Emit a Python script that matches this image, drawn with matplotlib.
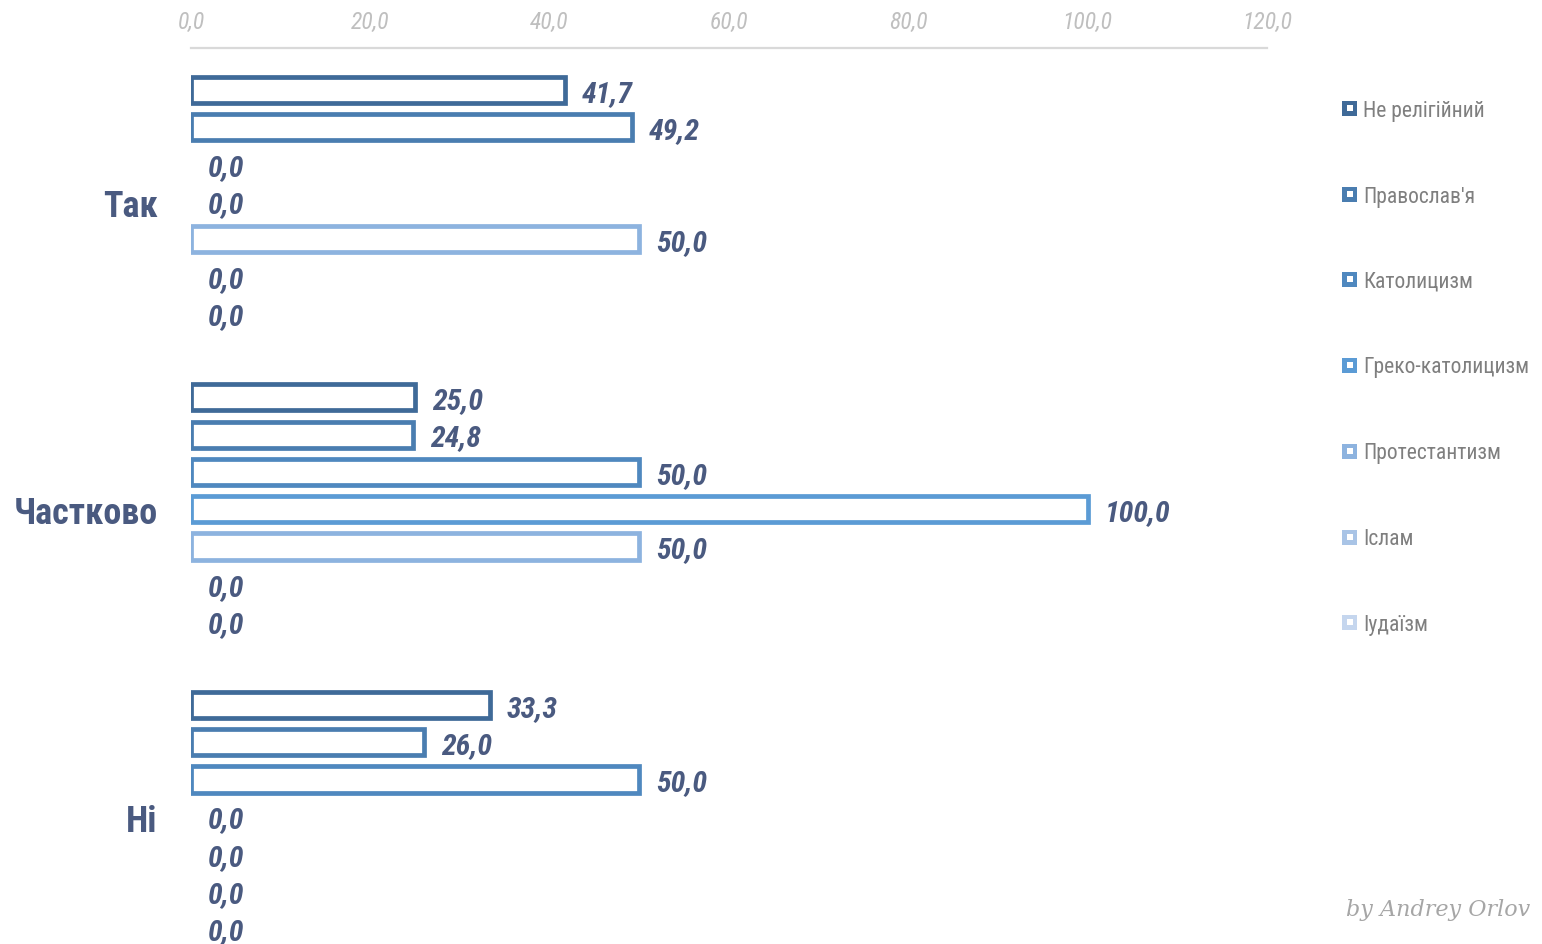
import matplotlib
matplotlib.use("Agg")
import matplotlib.pyplot as plt
from matplotlib.patches import Rectangle
from matplotlib import font_manager as fm
import numpy as np

categories = ["Так", "Частково", "Ні"]
series = ["Не релігійний", "Православ'я", "Католицизм", "Греко-католицизм",
          "Протестантизм", "Іслам", "Іудаїзм"]
values = {
    "Не релігійний":    [41.7, 25.0, 33.3],
    "Православ'я":      [49.2, 24.8, 26.0],
    "Католицизм":       [0.0, 50.0, 50.0],
    "Греко-католицизм": [0.0, 100.0, 0.0],
    "Протестантизм":    [50.0, 50.0, 0.0],
    "Іслам":            [0.0, 0.0, 0.0],
    "Іудаїзм":          [0.0, 0.0, 0.0],
}
colors = ["#3F6A98", "#4A7DB0", "#4F88BF", "#5B9BD5", "#8DB3DF", "#A9C4E6", "#C5D6EE"]
xticks = [0, 20, 40, 60, 80, 100, 120]

names = {f.name for f in fm.fontManager.ttflist}
narrow = "Liberation Sans Narrow" if "Liberation Sans Narrow" in names else "Roboto Condensed" if "Roboto Condensed" in names else "Liberation Sans"
plt.rcParams['font.family'] = [narrow, 'DejaVu Sans']

W, H = 1542, 945
fig = plt.figure(figsize=(W/100, H/100), dpi=100)
ax_left = 191 / W
ax_right = 1267 / W
ax_top = 1 - 49 / H
ax_bottom = 1 - 971.5 / H
ax = fig.add_axes([ax_left, ax_bottom, ax_right - ax_left, ax_top - ax_bottom])

step = 0.1213
bh = 0.085
ypos = np.arange(len(categories))
lw_pt = 3.4
label_color = "#4A5A80"
for i, (s, c) in enumerate(zip(series, colors)):
    vals = values[s]
    y = ypos + (i - 3) * step
    lws = [lw_pt if v > 0 else 0 for v in vals]
    bars = ax.barh(y, vals, height=bh, facecolor="white", edgecolor=c,
                   linewidth=lws, zorder=3)
    anns = ax.bar_label(bars, labels=[f"{v:.1f}".replace(".", ",") for v in vals],
                        padding=12, color=label_color, fontsize=21.5,
                        fontweight="bold", fontstyle="italic")
    for a in anns:
        a.xyann = (a.xyann[0], -2)

ax.set_xlim(0, 120)
ax.set_ylim(2.5, -0.5)
ax.set_xticks(xticks)
ax.set_xticklabels([f"{t:.1f}".replace(".", ",") for t in xticks],
                   fontstyle="italic", color="#BFBFBF", fontsize=17)
ax.xaxis.tick_top()
ax.tick_params(axis="x", length=0, pad=11)
ax.set_yticks(ypos)
ax.set_yticklabels(categories, color=label_color, fontsize=26, fontweight="bold")
ax.tick_params(axis="y", length=0, pad=24)
for sp in ["right", "bottom", "left"]:
    ax.spines[sp].set_visible(False)
ax.spines["top"].set_color("#D9D9D9")
ax.spines["top"].set_linewidth(1.6)

# legend
leg_y = [111, 197, 282, 368, 454, 540, 625]
for s, c, ly in zip(series, colors, leg_y):
    size = 15
    x0 = 1342
    cy = ly - 2
    fig.add_artist(Rectangle((x0 / W, 1 - (cy + size / 2) / H), size / W, size / H,
                             transform=fig.transFigure, facecolor=c, edgecolor="none"))
    inner = 6
    fig.add_artist(Rectangle(((x0 + (size - inner) / 2) / W, 1 - (cy + inner / 2) / H),
                             inner / W, inner / H, transform=fig.transFigure,
                             facecolor="white", edgecolor="none"))
    fig.text((x0 + size + 6) / W, 1 - ly / H, s, fontsize=15.5, color="#7F7F7F",
             va="center", ha="left")

fig.text(1346 / W, 1 - 910 / H, "by Andrey Orlov", fontsize=16, color="#A6A6A6",
         family="DejaVu Serif", fontstyle="italic", va="center", ha="left")

fig.savefig("out.png", dpi=100, facecolor="white")
